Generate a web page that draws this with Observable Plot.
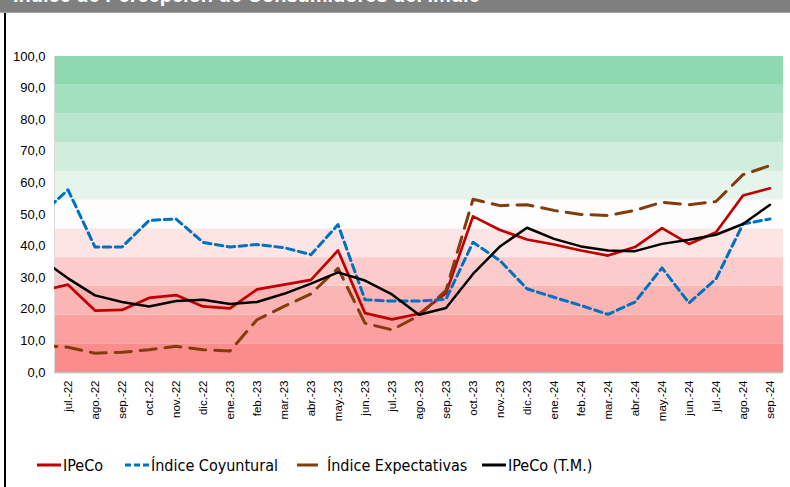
<!DOCTYPE html>
<html>
<head>
<meta charset="utf-8">
<script src="https://cdn.jsdelivr.net/npm/d3@7"></script>
<script src="https://cdn.jsdelivr.net/npm/@observablehq/plot@0.6"></script>
<style>
  html, body { margin: 0; padding: 0; background: #fff; }
  #wrap { position: relative; width: 790px; height: 487px; overflow: hidden; font-family: "Liberation Sans", Arial, sans-serif; }
  #titlebar { position: absolute; left: 0; top: 0; width: 790px; height: 12px; background: #7f7f7f; border-bottom: 1px solid #a6a6a6; overflow: hidden; }
  #titlebar span { position: absolute; left: 13px; top: -15px; font: bold 20px "Liberation Sans", Arial, sans-serif; color: #fff; white-space: nowrap; line-height: 20px; }
  #leftborder { position: absolute; left: 4px; top: 13px; width: 2px; height: 474px; background: #000; }
  #chart { position: absolute; left: 0; top: 0; }
  .leg { position: absolute; top: 455px; height: 20px; display: flex; align-items: center; font: 16px "Liberation Sans Narrow", "DejaVu Sans Condensed", Arial, sans-serif; color: #000; white-space: nowrap; }
  .leg svg { margin-right: 2px; }
</style>
</head>
<body>
<div id="wrap">
  <div id="titlebar"><span>Índice de Percepción de Consumidores del Imdie</span></div>
  <div id="leftborder"></div>
  <div id="chart"></div>
  <div id="legend"></div>
</div>
<script>
// Months (first one, jun.-22, lies just outside the visible axis and is clipped)
const months = ["jun.-22","jul.-22","ago.-22","sep.-22","oct.-22","nov.-22","dic.-22","ene.-23","feb.-23","mar.-23","abr.-23","may.-23","jun.-23","jul.-23","ago.-23","sep.-23","oct.-23","nov.-23","dic.-23","ene.-24","feb.-24","mar.-24","abr.-24","may.-24","jun.-24","jul.-24","ago.-24","sep.-24"];
const shownFrom = 1; // first labelled month index

const ipeco       = [25.8, 27.8, 19.6, 19.8, 23.6, 24.5, 20.9, 20.3, 26.3, 27.8, 29.3, 38.6, 18.8, 16.8, 18.6, 25.1, 49.4, 45.1, 42.1, 40.5, 38.6, 37.0, 39.7, 45.7, 40.7, 44.4, 56.0, 58.3];
const coyuntural  = [50.0, 57.8, 39.7, 39.7, 48.1, 48.6, 41.2, 39.7, 40.5, 39.5, 37.3, 46.8, 23.0, 22.6, 22.6, 23.2, 41.2, 35.4, 26.5, 23.8, 21.2, 18.4, 22.3, 33.1, 22.0, 29.6, 47.0, 48.6];
const expectativas= [8.6, 8.0, 6.1, 6.4, 7.2, 8.3, 7.2, 6.8, 16.7, 20.9, 24.9, 33.0, 15.6, 13.5, 18.0, 26.0, 54.8, 52.8, 53.1, 51.3, 50.0, 49.7, 51.3, 53.9, 53.1, 54.1, 62.6, 65.5];
const ipecoTM     = [36.0, 29.8, 24.4, 22.3, 20.9, 22.6, 23.0, 21.7, 22.3, 24.9, 28.1, 31.7, 29.1, 24.7, 18.3, 20.4, 31.2, 39.9, 45.8, 42.3, 39.9, 38.6, 38.4, 40.7, 42.0, 43.6, 47.0, 53.1];

const yTicks = [0, 10, 20, 30, 40, 50, 60, 70, 80, 90, 100];
const bandCount = 11;
const bandColors = ["#fa8c8c","#fb9f9f","#fbb5b5","#fccccc","#fee5e5","#fdfdfd","#e6f5ec","#d1eddd","#b8e6cc","#a3e0bf","#8fd9b0"];

const seriesNames = ["IPeCo", "Índice Coyuntural", "Índice Expectativas", "IPeCo (T.M.)"];
const seriesValues = [ipeco, coyuntural, expectativas, ipecoTM];
const seriesStyle = [
  {stroke: "#c00000", strokeWidth: 2.7, dash: null},
  {stroke: "#0070c0", strokeWidth: 3, dash: "7.5 4.5"},
  {stroke: "#843c0c", strokeWidth: 3, dash: "16 9"},
  {stroke: "#000000", strokeWidth: 2.5, dash: null}
];

const bands = d3.range(bandCount).map(i => ({lo: 100 * i / bandCount, hi: 100 * (i + 1) / bandCount, c: bandColors[i]}));
const xMin = shownFrom - 0.5, xMax = months.length - 0.5;

const lineMarks = seriesValues.map((vals, s) => Plot.line(
  vals.map((v, i) => ({x: i, y: v})),
  {x: "x", y: "y", stroke: seriesStyle[s].stroke, strokeWidth: seriesStyle[s].strokeWidth,
   strokeDasharray: seriesStyle[s].dash, clip: true, strokeLinejoin: "round"}
));
// Draw order: IPeCo, Coyuntural, Expectativas, T.M.
const chart = Plot.plot({
  width: 790,
  height: 440,
  marginLeft: 54,
  marginRight: 7,
  marginTop: 56,
  marginBottom: 68,
  style: {fontFamily: "'Liberation Sans', Arial, sans-serif", background: "transparent"},
  x: {type: "linear", domain: [xMin, xMax], axis: null},
  y: {domain: [0, 100], axis: null},
  marks: [
    Plot.rectY(bands, {x1: xMin, x2: xMax, y1: "lo", y2: "hi", fill: "c"}),
    Plot.ruleX([xMin], {stroke: "#d9d9d9", strokeWidth: 1}),
    Plot.ruleY([0], {stroke: "#bfbfbf", strokeWidth: 1.5}),
    Plot.axisY({ticks: yTicks, tickSize: 0, tickPadding: 9, label: null,
      tickFormat: d => d.toFixed(1).replace(".", ","), fontSize: 13}),
    Plot.axisX({ticks: d3.range(shownFrom, months.length), tickSize: 0, tickPadding: 8,
      tickRotate: -90, label: null, tickFormat: i => months[i], fontSize: 11.5}),
    ...lineMarks
  ]
});
document.getElementById("chart").appendChild(chart);

// Legend
const legPos = [37, 125, 297, 482];
const leg = document.getElementById("legend");
seriesNames.forEach((name, s) => {
  const d = document.createElement("div");
  d.className = "leg";
  d.style.left = legPos[s] + "px";
  const st = seriesStyle[s];
  const w = s === 2 ? 28 : 24;
  d.innerHTML = `<svg width="${w}" height="6"><line x1="0" x2="${s === 2 ? 21 : w}" y1="3" y2="3" stroke="${st.stroke}" stroke-width="3" ${st.dash ? `stroke-dasharray="${s === 1 ? '6 3' : '21 0'}"` : ""}/></svg><span>${name}</span>`;
  leg.appendChild(d);
});
</script>
</body>
</html>
